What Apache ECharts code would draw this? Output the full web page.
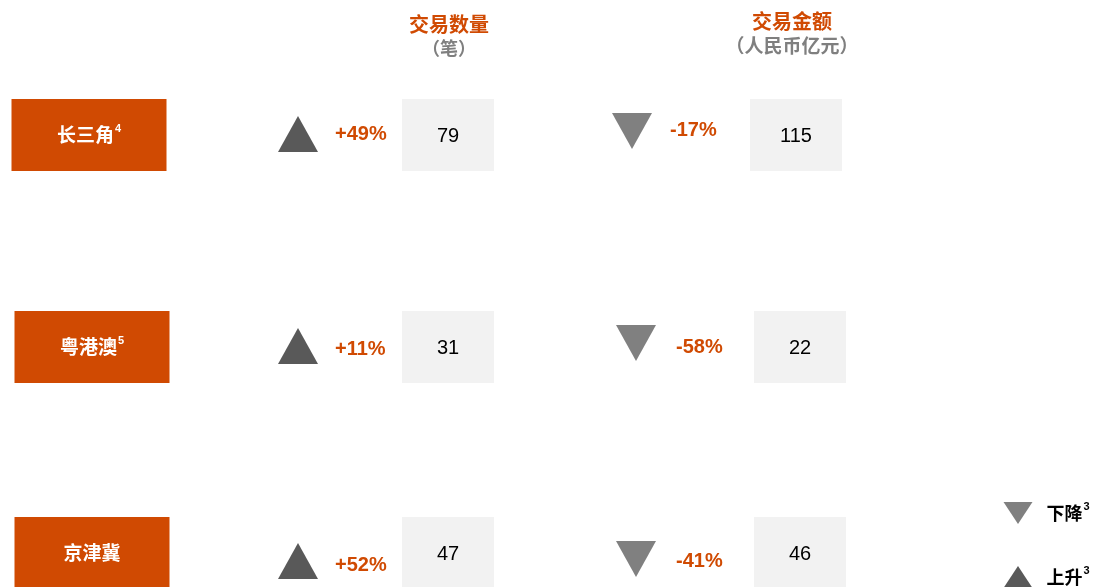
<!DOCTYPE html>
<html>
<head>
<meta charset="utf-8">
<script src="https://cdn.jsdelivr.net/npm/echarts@6/dist/echarts.min.js"></script>
<style>
  html, body { margin: 0; padding: 0; background: #fff; }
  #main { width: 1099px; height: 587px; }
</style>
</head>
<body>
<div id="main"></div>
<script>
// 数据
const regions = ["长三角", "粤港澳", "京津冀"];
const regionNotes = ["4", "5", ""];
const countChange = ["+49%", "+11%", "+52%"];
const countValues = [79, 31, 47];
const amountChange = ["-17%", "-58%", "-41%"];
const amountValues = [115, 22, 46];
const legendNames = ["下降", "上升"];
const legendNote = "3";

// 版面位置 (像素坐标)
const rowY = [135, 347, 553];
const labelX = [89, 92, 92];
const upY = [134, 346, 561];
const countPctY = [134, 349, 565];
const downX = [632, 636, 636];
const downY = [131, 343, 559];
const amountPctX = [670, 676, 676];
const amountPctY = [130, 347, 561];
const amountBoxX = [796, 800, 800];

const ORANGE = "#D04A02";
const FONT = "Liberation Sans, Arial, Noto Sans CJK SC, sans-serif";

const myChart = echarts.init(document.getElementById("main"));

const textLabel = (getText, color, size, weight) => ({
  show: true,
  position: "right",
  distance: 0,
  formatter: (p) => getText(p.dataIndex),
  color: color,
  fontSize: size,
  fontWeight: weight,
  fontFamily: FONT,
});

const supRich = (color, size) => ({
  a: { color: color, fontSize: size, fontWeight: "bold", fontFamily: "Noto Sans CJK SC", lineHeight: 24 },
  s: { color: color, fontSize: 11, fontWeight: "bold", fontFamily: FONT, verticalAlign: "top", lineHeight: 24, padding: [0, 0, 3, 1] },
});

const numLabel = (values) => ({
  show: true,
  position: "inside",
  offset: [0, 1],
  formatter: (p) => String(values[p.dataIndex]),
  color: "#000",
  fontSize: 20,
  fontFamily: FONT,
});

myChart.setOption({
  animation: false,
  grid: { left: 0, right: 0, top: 0, bottom: 0 },
  xAxis: { type: "value", min: 0, max: 1099, show: false },
  yAxis: { type: "value", min: 0, max: 587, inverse: true, show: false },
  graphic: [
    { type: "text", x: 449, y: 14, style: { text: "交易数量", fill: ORANGE, font: "bold 20px Noto Sans CJK SC", textAlign: "center" } },
    { type: "text", x: 449, y: 39, style: { text: "（笔）", fill: "#7F7F7F", font: "bold 18px Noto Sans CJK SC", textAlign: "center" } },
    { type: "text", x: 792, y: 11, style: { text: "交易金额", fill: ORANGE, font: "bold 20px Noto Sans CJK SC", textAlign: "center" } },
    { type: "text", x: 792, y: 36, style: { text: "（人民币亿元）", fill: "#7F7F7F", font: "bold 19px Noto Sans CJK SC", textAlign: "center" } },
  ],
  series: [
    {
      // 地区标签
      type: "scatter",
      symbol: "rect",
      symbolSize: [155, 72],
      itemStyle: { color: ORANGE, opacity: 1 },
      data: regions.map((r, i) => [labelX[i], rowY[i]]),
      label: {
        show: true,
        position: "inside",
        formatter: (p) => "{a|" + regions[p.dataIndex] + "}" + (regionNotes[p.dataIndex] ? "{s|" + regionNotes[p.dataIndex] + "}" : ""),
        rich: supRich("#fff", 19),
      },
    },
    {
      // 数量上升箭头
      type: "scatter",
      symbol: "triangle",
      symbolSize: [40, 36],
      itemStyle: { color: "#595959", opacity: 1 },
      data: countChange.map((c, i) => [298, upY[i]]),
    },
    {
      type: "scatter",
      symbolSize: 0,
      itemStyle: { color: "transparent", opacity: 1 },
      data: countChange.map((c, i) => [335, countPctY[i]]),
      label: textLabel((i) => countChange[i], ORANGE, 20, "bold"),
    },
    {
      // 交易数量
      type: "scatter",
      symbol: "rect",
      symbolSize: [92, 72],
      itemStyle: { color: "#F2F2F2", opacity: 1 },
      data: countValues.map((v, i) => [448, rowY[i]]),
      label: numLabel(countValues),
    },
    {
      // 金额下降箭头
      type: "scatter",
      symbol: "triangle",
      symbolRotate: 180,
      symbolSize: [40, 36],
      itemStyle: { color: "#808080", opacity: 1 },
      data: amountChange.map((c, i) => [downX[i], downY[i]]),
    },
    {
      type: "scatter",
      symbolSize: 0,
      itemStyle: { color: "transparent", opacity: 1 },
      data: amountChange.map((c, i) => [amountPctX[i], amountPctY[i]]),
      label: textLabel((i) => amountChange[i], ORANGE, 20, "bold"),
    },
    {
      // 交易金额
      type: "scatter",
      symbol: "rect",
      symbolSize: [92, 72],
      itemStyle: { color: "#F2F2F2", opacity: 1 },
      data: amountValues.map((v, i) => [amountBoxX[i], rowY[i]]),
      label: numLabel(amountValues),
    },
    {
      // 图例
      type: "scatter",
      symbol: "triangle",
      symbolSize: [29, 22],
      data: [
        { value: [1018, 513], symbolRotate: 180, itemStyle: { color: "#808080", opacity: 1 } },
        { value: [1018, 577], itemStyle: { color: "#595959", opacity: 1 } },
      ],
      label: {
        show: true,
        position: "right",
        distance: 14,
        formatter: (p) => "{a|" + legendNames[p.dataIndex] + "}{s|" + legendNote + "}",
        rich: supRich("#000", 18),
      },
    },
  ],
});
</script>
</body>
</html>
